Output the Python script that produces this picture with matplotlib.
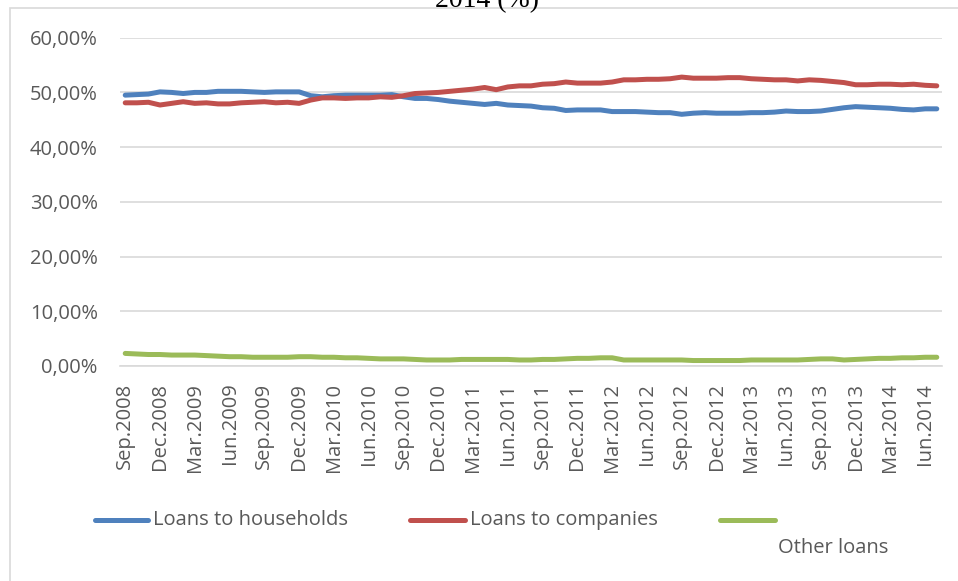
import matplotlib
matplotlib.use("Agg")
import matplotlib.pyplot as plt
from matplotlib.lines import Line2D
from matplotlib.patches import Rectangle

# monthly shares, Sep.2008 .. Jul.2014 (%)
households = [49.5, 49.6, 49.7, 50.1, 50.0, 49.8, 50.0, 50.0, 50.2, 50.2, 50.2, 50.1,
              50.0, 50.1, 50.1, 50.1, 49.4, 49.2, 49.4, 49.5, 49.5, 49.5, 49.5, 49.6,
              49.2, 48.9, 48.9, 48.7, 48.4, 48.2, 48.0, 47.8, 48.0, 47.7, 47.6, 47.5,
              47.2, 47.1, 46.7, 46.8, 46.8, 46.8, 46.5, 46.5, 46.5, 46.4, 46.3, 46.3,
              46.0, 46.2, 46.3, 46.2, 46.2, 46.2, 46.3, 46.3, 46.4, 46.6, 46.5, 46.5,
              46.6, 46.9, 47.2, 47.4, 47.3, 47.2, 47.1, 46.9, 46.8, 47.0, 47.0]
companies = [48.1, 48.1, 48.2, 47.7, 48.0, 48.3, 48.0, 48.1, 47.9, 47.9, 48.1, 48.2,
             48.3, 48.1, 48.2, 48.0, 48.6, 49.0, 49.0, 48.9, 49.0, 49.0, 49.2, 49.1,
             49.4, 49.8, 49.9, 50.0, 50.2, 50.4, 50.6, 50.9, 50.5, 51.0, 51.2, 51.2,
             51.5, 51.6, 51.9, 51.7, 51.7, 51.7, 51.9, 52.3, 52.3, 52.4, 52.4, 52.5,
             52.8, 52.6, 52.6, 52.6, 52.7, 52.7, 52.5, 52.4, 52.3, 52.3, 52.1, 52.3,
             52.2, 52.0, 51.8, 51.4, 51.4, 51.5, 51.5, 51.4, 51.5, 51.3, 51.2]
other = [2.3, 2.2, 2.1, 2.1, 2.0, 2.0, 2.0, 1.9, 1.8, 1.7, 1.7, 1.6,
         1.6, 1.6, 1.6, 1.7, 1.7, 1.6, 1.6, 1.5, 1.5, 1.4, 1.3, 1.3,
         1.3, 1.2, 1.1, 1.1, 1.1, 1.2, 1.2, 1.2, 1.2, 1.2, 1.1, 1.1,
         1.2, 1.2, 1.3, 1.4, 1.4, 1.5, 1.5, 1.1, 1.1, 1.1, 1.1, 1.1,
         1.1, 1.0, 1.0, 1.0, 1.0, 1.0, 1.1, 1.1, 1.1, 1.1, 1.1, 1.2,
         1.3, 1.3, 1.1, 1.2, 1.3, 1.4, 1.4, 1.5, 1.5, 1.6, 1.6]

tick_labels = ["Sep.2008", "Dec.2008", "Mar.2009", "Iun.2009", "Sep.2009", "Dec.2009",
               "Mar.2010", "Iun.2010", "Sep.2010", "Dec.2010", "Mar.2011", "Iun.2011",
               "Sep.2011", "Dec.2011", "Mar.2012", "Iun.2012", "Sep.2012", "Dec.2012",
               "Mar.2013", "Iun.2013", "Sep.2013", "Dec.2013", "Mar.2014", "Iun.2014"]
y_ticks = [0, 10, 20, 30, 40, 50, 60]

series_names = ["Loans to households", "Loans to companies", "Other loans"]
colors = ["#4F81BD", "#C0504D", "#9BBB59"]

plt.rcParams['font.family'] = ['Open Sans', 'DejaVu Sans']
W, H = 958, 581
fs = 14.5
fig = plt.figure(figsize=(W / 100, H / 100), dpi=100)

# chart frame (runs off the right and bottom edges)
fig.patches.append(Rectangle((10 / W, -0.1), 1.2, 1.1 - 8 / H, transform=fig.transFigure,
                             fill=False, edgecolor="#D9D9D9", lw=1.2))
fig.text(487 / W, 1 - 7 / H, "2014 (%)", family="Liberation Serif", fontsize=20,
         ha="center", va="baseline")

ax = fig.add_axes([120 / W, 1 - 366 / H, (942 - 120) / W, (366 - 37.7) / H])
x = list(range(len(households)))
for vals, c in zip([households, companies, other], colors):
    ax.plot(x, vals, color=c, lw=3.6, solid_capstyle="round", zorder=3)

ax.set_xlim(-0.45, len(x) - 0.55)
ax.set_ylim(0, 60)
ax.set_yticks(y_ticks)
ax.set_yticklabels([f"{v:.2f}%".replace(".", ",") for v in y_ticks])
ax.set_xticks(range(0, len(x), 3))
ax.set_xticklabels(tick_labels, rotation=90)
ax.tick_params(length=0, labelsize=fs, colors="#595959")
ax.tick_params(axis="x", pad=12)
ax.tick_params(axis="y", pad=16)
ax.yaxis.grid(True, color="#D9D9D9", lw=1.2)
ax.set_axisbelow(True)
for s in ["top", "right", "left"]:
    ax.spines[s].set_visible(False)
ax.spines["bottom"].set_color("#D9D9D9")
ax.spines["bottom"].set_linewidth(1.2)

# legend drawn by hand so the last entry wraps as in the original
leg = [(95, 148, 153, 520), (410, 465, 470, 520), (720, 775, 778, 548)]
for (x0, x1, tx, ty), name, c in zip(leg, series_names, colors):
    fig.lines.append(Line2D([x0 / W, x1 / W], [1 - 520 / H] * 2, transform=fig.transFigure,
                            color=c, lw=3.6, solid_capstyle="round"))
    fig.text(tx / W, 1 - ty / H, name, fontsize=fs, color="#595959", va="center")

fig.savefig("out.png", dpi=100)
